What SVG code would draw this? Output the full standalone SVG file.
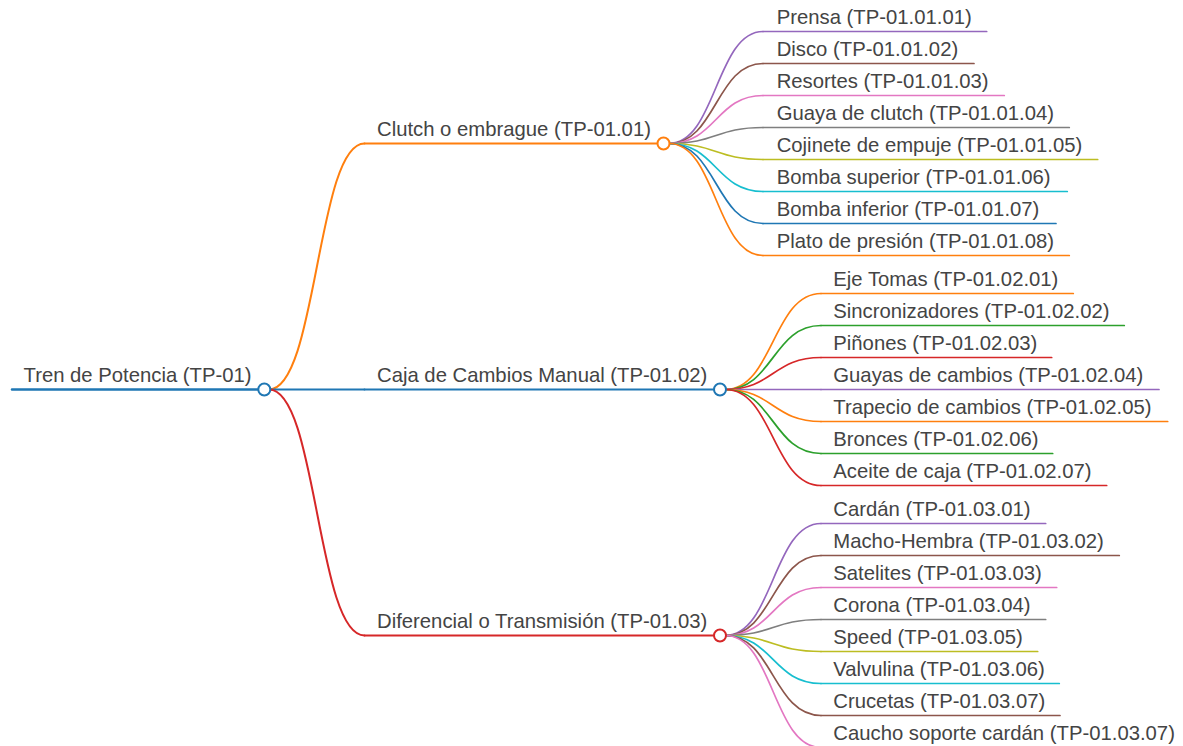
<svg xmlns="http://www.w3.org/2000/svg" width="1183" height="746" viewBox="0 0 1183 746">
<style>
text{font-family:"Liberation Sans",Arial,sans-serif;font-size:20.3px;fill:#444}
path{fill:none;stroke-linecap:round}
.l0{stroke-width:2.5}
.l1{stroke-width:2}
.l2{stroke-width:1.7}
circle{fill:#fff;stroke-width:2}
.blue{stroke:#1f77b4}.orange{stroke:#ff7f0e}.green{stroke:#2ca02c}.red{stroke:#d62728}.purple{stroke:#9467bd}.brown{stroke:#8c564b}.pink{stroke:#e377c2}.gray{stroke:#7f7f7f}.olive{stroke:#bcbd22}.cyan{stroke:#17becf}
</style>
<rect width="1183" height="746" fill="#fff"/>
<g id="connectors">
<path class="l1 orange" d="M269,389.5 C317,389.5 317,143.5 364.5,143.5"/>
<path class="l1 blue" d="M269,389.5 L364.5,389.5"/>
<path class="l1 red" d="M269,389.5 C317,389.5 317,635.5 364.5,635.5"/>
<path class="l2 purple" d="M669,143.5 C716,143.5 716,31.5 763,31.5"/>
<path class="l2 brown" d="M669,143.5 C716,143.5 716,63.5 763,63.5"/>
<path class="l2 pink" d="M669,143.5 C716,143.5 716,95.5 763,95.5"/>
<path class="l2 gray" d="M669,143.5 C716,143.5 716,127.5 763,127.5"/>
<path class="l2 olive" d="M669,143.5 C716,143.5 716,159.5 763,159.5"/>
<path class="l2 cyan" d="M669,143.5 C716,143.5 716,191.5 763,191.5"/>
<path class="l2 blue" d="M669,143.5 C716,143.5 716,223.5 763,223.5"/>
<path class="l2 orange" d="M669,143.5 C716,143.5 716,255.5 763,255.5"/>
<path class="l2 orange" d="M725.5,389.5 C773,389.5 773,293.5 821,293.5"/>
<path class="l2 green" d="M725.5,389.5 C773,389.5 773,325.5 821,325.5"/>
<path class="l2 red" d="M725.5,389.5 C773,389.5 773,357.5 821,357.5"/>
<path class="l2 purple" d="M725.5,389.5 L821,389.5"/>
<path class="l2 orange" d="M725.5,389.5 C773,389.5 773,421.5 821,421.5"/>
<path class="l2 green" d="M725.5,389.5 C773,389.5 773,453.5 821,453.5"/>
<path class="l2 red" d="M725.5,389.5 C773,389.5 773,485.5 821,485.5"/>
<path class="l2 purple" d="M725.5,635.5 C773,635.5 773,523.5 821,523.5"/>
<path class="l2 brown" d="M725.5,635.5 C773,635.5 773,555.5 821,555.5"/>
<path class="l2 pink" d="M725.5,635.5 C773,635.5 773,587.5 821,587.5"/>
<path class="l2 gray" d="M725.5,635.5 C773,635.5 773,619.5 821,619.5"/>
<path class="l2 olive" d="M725.5,635.5 C773,635.5 773,651.5 821,651.5"/>
<path class="l2 cyan" d="M725.5,635.5 C773,635.5 773,683.5 821,683.5"/>
<path class="l2 brown" d="M725.5,635.5 C773,635.5 773,715.5 821,715.5"/>
<path class="l2 pink" d="M725.5,635.5 C773,635.5 773,747.5 821,747.5"/>
</g>
<g id="root"><path class="l0 blue" d="M12,389.5 H258"/><text x="23.5" y="381.5">Tren de Potencia (TP-01)</text><circle class="blue" cx="264.3" cy="389.5" r="6"/></g>
<g id="clutch"><path class="l1 orange" d="M364.5,143.5 H657.5"/><text x="377" y="135.5">Clutch o embrague (TP-01.01)</text><circle class="orange" cx="663.5" cy="143.5" r="6"/></g>
<g id="caja"><path class="l1 blue" d="M364.5,389.5 H714"/><text x="377" y="381.5">Caja de Cambios Manual (TP-01.02)</text><circle class="blue" cx="720" cy="389.5" r="6"/></g>
<g id="dif"><path class="l1 red" d="M364.5,635.5 H714"/><text x="377" y="627.5">Diferencial o Transmisión (TP-01.03)</text><circle class="red" cx="720" cy="635.5" r="6"/></g>
<g id="c1"><path class="l2 purple" d="M763,31.5 H986.7"/><text x="776.7" y="23.5">Prensa (TP-01.01.01)</text></g>
<g id="c2"><path class="l2 brown" d="M763,63.5 H974"/><text x="776.7" y="55.5">Disco (TP-01.01.02)</text></g>
<g id="c3"><path class="l2 pink" d="M763,95.5 H1004.3"/><text x="776.7" y="87.5">Resortes (TP-01.01.03)</text></g>
<g id="c4"><path class="l2 gray" d="M763,127.5 H1069.3"/><text x="776.7" y="119.5">Guaya de clutch (TP-01.01.04)</text></g>
<g id="c5"><path class="l2 olive" d="M763,159.5 H1097.7"/><text x="776.7" y="151.5">Cojinete de empuje (TP-01.01.05)</text></g>
<g id="c6"><path class="l2 cyan" d="M763,191.5 H1067.3"/><text x="776.7" y="183.5">Bomba superior (TP-01.01.06)</text></g>
<g id="c7"><path class="l2 blue" d="M763,223.5 H1056"/><text x="776.7" y="215.5">Bomba inferior (TP-01.01.07)</text></g>
<g id="c8"><path class="l2 orange" d="M763,255.5 H1069.3"/><text x="776.7" y="247.5">Plato de presión (TP-01.01.08)</text></g>
<g id="k1"><path class="l2 orange" d="M821,293.5 H1073.3"/><text x="833.3" y="285.5">Eje Tomas (TP-01.02.01)</text></g>
<g id="k2"><path class="l2 green" d="M821,325.5 H1124.3"/><text x="833.3" y="317.5">Sincronizadores (TP-01.02.02)</text></g>
<g id="k3"><path class="l2 red" d="M821,357.5 H1051.7"/><text x="833.3" y="349.5">Piñones (TP-01.02.03)</text></g>
<g id="k4"><path class="l2 purple" d="M821,389.5 H1159"/><text x="833.3" y="381.5">Guayas de cambios (TP-01.02.04)</text></g>
<g id="k5"><path class="l2 orange" d="M821,421.5 H1167.7"/><text x="833.3" y="413.5">Trapecio de cambios (TP-01.02.05)</text></g>
<g id="k6"><path class="l2 green" d="M821,453.5 H1052.7"/><text x="833.3" y="445.5">Bronces (TP-01.02.06)</text></g>
<g id="k7"><path class="l2 red" d="M821,485.5 H1106.7"/><text x="833.3" y="477.5">Aceite de caja (TP-01.02.07)</text></g>
<g id="d1"><path class="l2 purple" d="M821,523.5 H1045.7"/><text x="833.3" y="515.5">Cardán (TP-01.03.01)</text></g>
<g id="d2"><path class="l2 brown" d="M821,555.5 H1119.3"/><text x="833.3" y="547.5">Macho-Hembra (TP-01.03.02)</text></g>
<g id="d3"><path class="l2 pink" d="M821,587.5 H1056.7"/><text x="833.3" y="579.5">Satelites (TP-01.03.03)</text></g>
<g id="d4"><path class="l2 gray" d="M821,619.5 H1045.7"/><text x="833.3" y="611.5">Corona (TP-01.03.04)</text></g>
<g id="d5"><path class="l2 olive" d="M821,651.5 H1037.7"/><text x="833.3" y="643.5">Speed (TP-01.03.05)</text></g>
<g id="d6"><path class="l2 cyan" d="M821,683.5 H1059.3"/><text x="833.3" y="675.5">Valvulina (TP-01.03.06)</text></g>
<g id="d7"><path class="l2 brown" d="M821,715.5 H1060"/><text x="833.3" y="707.5">Crucetas (TP-01.03.07)</text></g>
<g id="d8"><path class="l2 pink" d="M821,747.5 H1190"/><text x="833.3" y="739.5">Caucho soporte cardán (TP-01.03.07)</text></g>
</svg>
